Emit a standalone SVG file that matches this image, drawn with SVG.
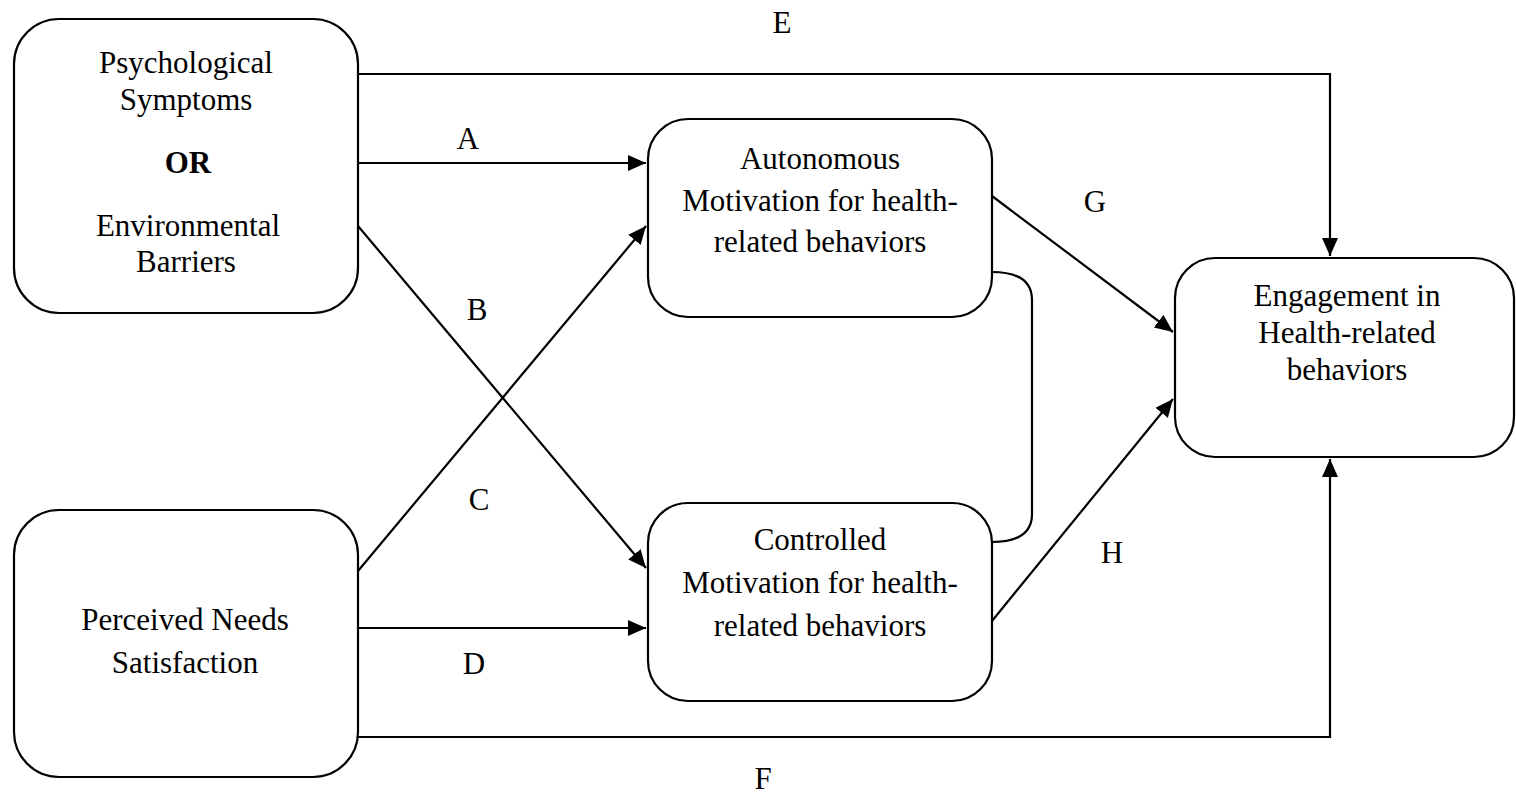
<svg xmlns="http://www.w3.org/2000/svg" width="1516" height="801" viewBox="0 0 1516 801">
<defs>
<style>
.box{fill:#fff;stroke:#000;stroke-width:2.2}
.t{font-family:"Liberation Serif","Times New Roman",serif;font-size:31px;fill:#000;text-anchor:middle}
.b{font-weight:bold}
.c{fill:none;stroke:#000;stroke-width:2.2}
</style>
<marker id="ah" markerUnits="userSpaceOnUse" markerWidth="19" markerHeight="17" refX="18" refY="8" orient="auto">
<path d="M0,0 L18,8 L0,16 z" fill="#000"/>
</marker>
</defs>
<rect width="1516" height="801" fill="#fff"/>
<g id="connectors">
<path class="c" d="M358,74 H1330 V256" marker-end="url(#ah)"/>
<path class="c" d="M358,163 H646" marker-end="url(#ah)"/>
<path class="c" d="M358,226 L646,568" marker-end="url(#ah)"/>
<path class="c" d="M358,571 L646,226" marker-end="url(#ah)"/>
<path class="c" d="M358,628 H646" marker-end="url(#ah)"/>
<path class="c" d="M358,737 H1330 V459" marker-end="url(#ah)"/>
<path class="c" d="M992,196 L1173,332" marker-end="url(#ah)"/>
<path class="c" d="M992,621 L1173,399" marker-end="url(#ah)"/>
<path class="c" d="M992,272 C1020,272 1032,282 1032,300 V514 C1032,532 1020,542 992,542"/>
<text class="t" x="782" y="33">E</text>
<text class="t" x="468" y="149">A</text>
<text class="t" x="477" y="320">B</text>
<text class="t" x="479" y="510">C</text>
<text class="t" x="474" y="674">D</text>
<text class="t" x="763" y="789">F</text>
<text class="t" x="1095" y="212">G</text>
<text class="t" x="1112" y="563">H</text>
</g>
<g id="psych">
<rect class="box" x="14" y="19" width="344" height="294" rx="45"/>
<text class="t" x="186" y="73">Psychological</text>
<text class="t" x="186" y="110">Symptoms</text>
<text class="t b" x="188" y="173">OR</text>
<text class="t" x="188" y="236">Environmental</text>
<text class="t" x="186" y="272">Barriers</text>
</g>
<g id="needs">
<rect class="box" x="14" y="510" width="344" height="267" rx="45"/>
<text class="t" x="185" y="630">Perceived Needs</text>
<text class="t" x="185" y="673">Satisfaction</text>
</g>
<g id="autonomous">
<rect class="box" x="648" y="119" width="344" height="198" rx="40"/>
<text class="t" x="820" y="169">Autonomous</text>
<text class="t" x="820" y="211">Motivation for health-</text>
<text class="t" x="820" y="252">related behaviors</text>
</g>
<g id="controlled">
<rect class="box" x="648" y="503" width="344" height="198" rx="40"/>
<text class="t" x="820" y="550">Controlled</text>
<text class="t" x="820" y="593">Motivation for health-</text>
<text class="t" x="820" y="636">related behaviors</text>
</g>
<g id="engagement">
<rect class="box" x="1175" y="258" width="339" height="199" rx="40"/>
<text class="t" x="1347" y="306">Engagement in</text>
<text class="t" x="1347" y="343">Health-related</text>
<text class="t" x="1347" y="380">behaviors</text>
</g>
</svg>
